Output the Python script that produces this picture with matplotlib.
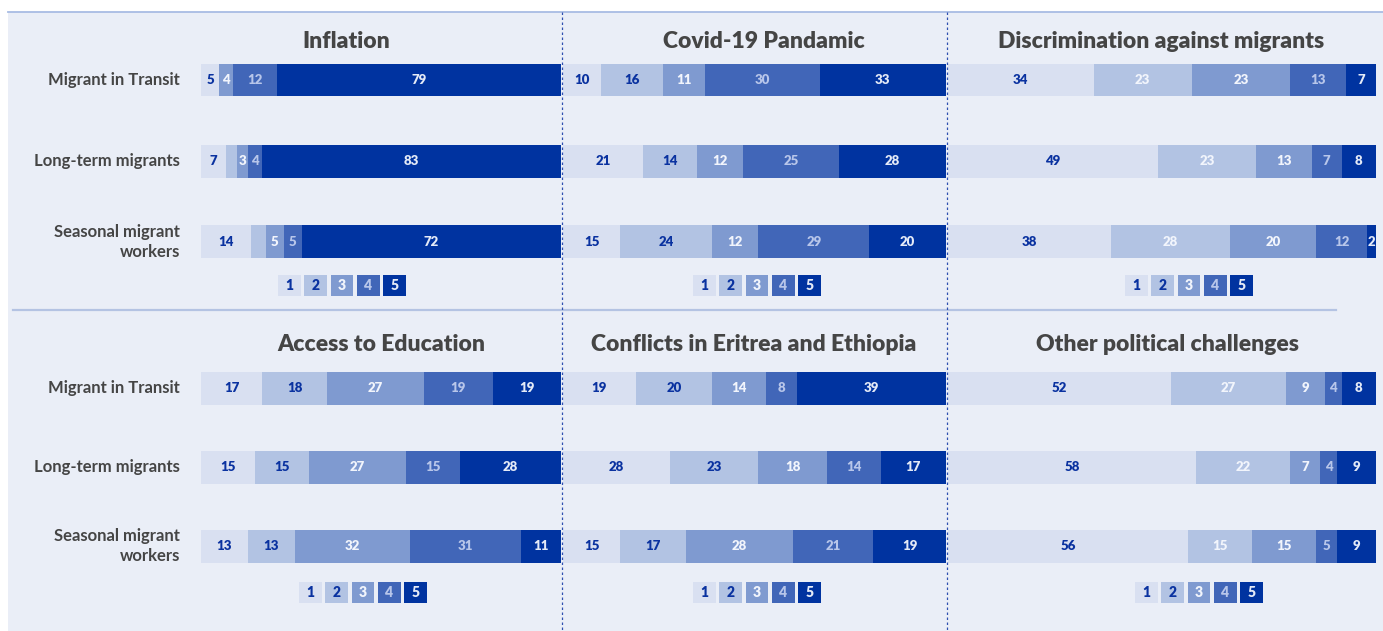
import matplotlib.pyplot as plt
from matplotlib.patches import Rectangle
from matplotlib.lines import Line2D

W, H = 1383, 631

groups = ["Migrant in Transit", "Long-term migrants", "Seasonal migrant\nworkers"]
scale = ["1", "2", "3", "4", "5"]

titles = ["Inflation", "Covid-19 Pandamic", "Discrimination against migrants",
          "Access to Education", "Conflicts in Eritrea and Ethiopia",
          "Other political challenges"]

# share of answers 1..5 per group (rows = groups)
inflation = [[5, 0, 4, 12, 79], [7, 3, 3, 4, 83], [14, 4, 5, 5, 72]]
covid = [[10, 16, 11, 30, 33], [21, 14, 12, 25, 28], [15, 24, 12, 29, 20]]
discrimination = [[34, 23, 23, 13, 7], [49, 23, 13, 7, 8], [38, 28, 20, 12, 2]]
education = [[17, 18, 27, 19, 19], [15, 15, 27, 15, 28], [13, 13, 32, 31, 11]]
conflicts = [[19, 20, 14, 8, 39], [28, 23, 18, 14, 17], [15, 17, 28, 21, 19]]
other = [[52, 27, 9, 4, 8], [58, 22, 7, 4, 9], [56, 15, 15, 5, 9]]

panels = [inflation, covid, discrimination, education, conflicts, other]

# labels missing in the source (panel, row, answer)
hidden = [(0, 1, 1), (0, 2, 1)]
# panels where the "2" labels are printed in white
white_2 = [2, 5]

colors = ["#d9e0f1", "#b2c3e3", "#7f9ad0", "#4166b8", "#0033a0"]
lab_colors = ["#0a32a0", "#0a32a0", "#f2f5fc", "#b8c6ea", "#e4eaf7"]
grey = "#454545"

# layout in pixels
cols = [(201, 561), (563, 946), (948, 1376)]
row_y = [[80, 161, 242], [388, 467, 546]]
title_y = [41.5, 344]
title_x = [346, 764, 1161, 381, 754, 1167]
leg_x = [276, 691, 1123, 297, 691, 1133]
leg_y = [275, 582]
bar_h = 33


def fx(x):
    return x / W


def fy(y):
    return 1 - y / H


fig = plt.figure(figsize=(W / 100, H / 100), dpi=100)
fig.patch.set_facecolor("white")

fig.patches.append(Rectangle((fx(8), 0), fx(W - 8), fy(12), transform=fig.transFigure,
                             facecolor="#eaeef7", edgecolor="none", zorder=-5))
fig.lines.append(Line2D([fx(8), 1], [fy(12), fy(12)], transform=fig.transFigure,
                        color="#a8bce4", lw=1.3, zorder=-4))
fig.lines.append(Line2D([fx(13), fx(1336)], [fy(310), fy(310)], transform=fig.transFigure,
                        color="#b4c3e3", lw=1.6, zorder=-4))
for x in [562, 947]:
    fig.lines.append(Line2D([fx(x), fx(x)], [fy(12), 0], transform=fig.transFigure,
                            color="#2f4fb0", lw=0.9, linestyle=(0, (2, 2)), zorder=5))

for p, data in enumerate(panels):
    r, c = divmod(p, 3)
    x0, x1 = cols[c]
    ys = row_y[r]
    step = (ys[2] - ys[0]) / 2
    top = ys[0] - step / 2
    bot = ys[2] + step / 2
    ax = fig.add_axes([fx(x0), fy(bot), fx(x1 - x0), (bot - top) / H])
    ax.patch.set_visible(False)
    ax.set_xlim(0, 100)
    ax.set_ylim(2.5, -0.5)
    ax.axis("off")

    for i, row in enumerate(data):
        left = 0
        for k, v in enumerate(row):
            if v > 0:
                ax.barh(i, v, left=left, height=bar_h / step, color=colors[k], linewidth=0)
                if (p, i, k) not in hidden:
                    col = lab_colors[k]
                    if k == 1 and p in white_2:
                        col = "#f2f5fc"
                    ax.text(left + v / 2, i, str(v), ha="center", va="center",
                            fontsize=9.5, fontweight="heavy", color=col, family="Lato")
            left += v

    fig.text(fx(title_x[p]), fy(title_y[r]), titles[p], ha="center", va="center",
             fontsize=16.5, fontweight="heavy", color=grey, family="Lato")

    if c == 0:
        for i, g in enumerate(groups):
            fig.text(fx(180), fy(ys[i]), g, ha="right", va="center", ma="right",
                     fontsize=12, fontweight="bold", color=grey, family="Lato",
                     linespacing=1.25)

    # legend boxes
    lx = leg_x[p]
    ly = leg_y[r]
    lax = fig.add_axes([fx(lx), fy(ly + 21), fx(5 * 26.4), 21 / H])
    lax.patch.set_visible(False)
    lax.set_xlim(-0.5, 4.5)
    lax.set_ylim(0, 1)
    lax.axis("off")
    lax.bar(range(5), [1] * 5, width=0.87, bottom=0, color=colors, linewidth=0)
    for k, s in enumerate(scale):
        lax.text(k, 0.5, s, ha="center", va="center", fontsize=10, fontweight="heavy",
                 color=lab_colors[k], family="Lato")

fig.savefig("out.png", dpi=100)
